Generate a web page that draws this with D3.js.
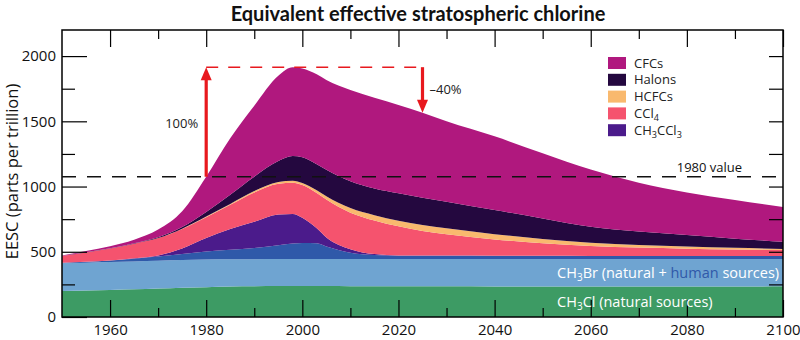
<!DOCTYPE html>
<html>
<head>
<meta charset="utf-8">
<script src="https://cdn.jsdelivr.net/npm/d3@7"></script>
<style>
  html, body { margin: 0; padding: 0; background: #fff; }
  svg { display: block; font-family: "Open Sans", sans-serif; }
</style>
</head>
<body>
<svg id="chart" width="800" height="340"></svg>
<script>
// Contributions to equivalent effective stratospheric chlorine (ppt), stacked bottom to top
const years        = [1950,1955,1960,1965,1970,1975,1980,1985,1990,1995,1998,2000,2003,2005,2010,2015,2020,2025,2030,2040,2050,2060,2070,2080,2090,2100];
const ch3cl        = [200,203,207,212,218,224,229,233,235,237,237,237,237,237,236,236,235,235,235,234,234,234,234,234,234,235];
const ch3brNatural = [212,213,214,214,213,212,211,209,208,207,207,207,207,207,208,208,209,209,209,210,210,210,210,210,210,209];
const ch3brHuman   = [4,7,12,21,32,46,63,73,85,106,119,123,121,96,48,31,26,26,26,26,25,24,24,23,23,23];
const ch3ccl3      = [0,0,1,3,9,43,102,160,202,235,227,193,115,70,28,7,2,1,1,0,0,0,0,0,0,0];
const ccl4         = [52,72,91,112,133,150,160,185,225,237,240,252,270,290,280,258,223,189,164,125,96,77,64,57,51,46];
const hcfcs        = [0,0,0,0,0,2,5,7,10,13,15,16,22,25,35,40,43,45,45,40,33,25,20,16,12,9];
const halons       = [0,1,2,4,7,13,35,70,110,160,189,197,198,203,205,205,210,210,204,185,158,122,103,88,70,55];
const cfcs         = [4,9,15,26,58,120,270,433,545,655,681,680,690,688,700,695,677,650,616,565,499,438,375,327,297,266];

const seriesKeys   = ["ch3cl","ch3brNatural","ch3brHuman","ch3ccl3","ccl4","hcfcs","halons","cfcs"];
const seriesColors = ["#3d9b64","#6fa4d1","#2f59a9","#4b1b8b","#f5536e","#f9b96e","#24083f","#b0187e"];

// Legend entries (odd-index pieces are subscripts)
const legendKeys   = ["cfcs","halons","hcfcs","ccl4","ch3ccl3"];
const legendLabels = [["CFCs"],["Halons"],["HCFCs"],["CCl","4"],["CH","3","CCl","3"]];

const xMajorTicks = [1960,1980,2000,2020,2040,2060,2080,2100];
const xMinorTicks = [1970,1990,2010,2030,2050,2070,2090];
const yMajorTicks = [0,500,1000,1500,2000];
const yMinorTicks = [250,750,1250,1750];

const title  = "Equivalent effective stratospheric chlorine";
const yTitle = "EESC (parts per trillion)";

const rows = years.map((yr, i) => ({
  year: yr, ch3cl: ch3cl[i], ch3brNatural: ch3brNatural[i], ch3brHuman: ch3brHuman[i],
  ch3ccl3: ch3ccl3[i], ccl4: ccl4[i], hcfcs: hcfcs[i], halons: halons[i], cfcs: cfcs[i]
}));
const totals = rows.map(r => seriesKeys.reduce((s, k) => s + r[k], 0));

const svg = d3.select("#chart");
const L = 62, R = 783, T = 30, B = 317;
const x = d3.scaleLinear().domain([1950, 2100]).range([L, R]);
const y = d3.scaleLinear().domain([0, 2200]).range([B, T]);
const color = d3.scaleOrdinal().domain(seriesKeys).range(seriesColors);

const stacked = d3.stack().keys(seriesKeys)(rows);
const area = d3.area()
  .x(d => x(d.data.year))
  .y0(d => y(d[0]))
  .y1(d => y(d[1]))
  .curve(d3.curveMonotoneX);

svg.append("g").selectAll("path")
  .data(stacked).join("path")
  .attr("d", area)
  .attr("fill", d => color(d.key));

// Rich text helper: alternate normal / subscript pieces
function richText(sel, parts, size) {
  const sub = size * 0.7, shift = size * 0.22;
  parts.forEach((p, i) => {
    const t = sel.append("tspan").text(p);
    if (i % 2 === 1) t.attr("font-size", sub).attr("dy", shift);
    else if (i > 0) t.attr("dy", -shift);
  });
}

// Axes: ticks point inward on all four sides
function styleAxis(g) {
  g.select(".domain").remove();
  g.selectAll(".tick line").attr("stroke", "#000").attr("stroke-width", 1.2);
  g.selectAll("text").attr("font-family", "Open Sans, sans-serif").attr("font-size", 15).attr("fill", "#111");
}
svg.append("g").attr("transform", `translate(0,${B})`)
  .call(d3.axisBottom(x).tickValues(xMajorTicks).tickSize(-17).tickPadding(7).tickFormat(d3.format("d")))
  .call(styleAxis);
svg.append("g").attr("transform", `translate(0,${B})`)
  .call(d3.axisBottom(x).tickValues(xMinorTicks).tickSize(-9).tickFormat(""))
  .call(styleAxis);
svg.append("g").attr("transform", `translate(0,${T})`)
  .call(d3.axisTop(x).tickValues(xMajorTicks).tickSize(-17).tickFormat(""))
  .call(styleAxis);
svg.append("g").attr("transform", `translate(0,${T})`)
  .call(d3.axisTop(x).tickValues(xMinorTicks).tickSize(-9).tickFormat(""))
  .call(styleAxis);
svg.append("g").attr("transform", `translate(${L},0)`)
  .call(d3.axisLeft(y).tickValues(yMajorTicks).tickSize(-25).tickPadding(6).tickFormat(d3.format("d")))
  .call(styleAxis);
svg.append("g").attr("transform", `translate(${L},0)`)
  .call(d3.axisLeft(y).tickValues(yMinorTicks).tickSize(-13).tickFormat(""))
  .call(styleAxis);
svg.append("g").attr("transform", `translate(${R},0)`)
  .call(d3.axisRight(y).tickValues(yMajorTicks.concat(yMinorTicks).filter(v => v > 0)).tickSize(-14).tickFormat(""))
  .call(styleAxis);

// Frame
svg.append("rect").attr("x", L).attr("y", T).attr("width", R - L).attr("height", B - T)
  .attr("fill", "none").attr("stroke", "#000").attr("stroke-width", 1.5);

// 1980 reference level
const i1980 = years.indexOf(1980);
const v1980 = totals[i1980];
svg.append("line")
  .attr("x1", L).attr("x2", R).attr("y1", y(v1980)).attr("y2", y(v1980))
  .attr("stroke", "#111").attr("stroke-width", 1.3).attr("stroke-dasharray", "14,11");
svg.append("text").attr("x", x(2091.5)).attr("y", y(v1980) - 5)
  .attr("text-anchor", "end").attr("font-size", 13).attr("fill", "#111").text("1980 value");

// Peak and recovery arrows
const peak = d3.max(totals);
const yrDown = 2025;
const vDown = totals[years.indexOf(yrDown)];
const red = "#e8191e";
svg.append("line")
  .attr("x1", x(1980)).attr("x2", x(yrDown)).attr("y1", y(peak)).attr("y2", y(peak))
  .attr("stroke", red).attr("stroke-width", 1.4).attr("stroke-dasharray", "12,10");

function arrow(xp, yFrom, yTo) {
  const dir = yTo < yFrom ? 1 : -1;       // 1: pointing up
  const head = 13, half = 5.5;
  svg.append("line").attr("x1", xp).attr("x2", xp)
    .attr("y1", yFrom).attr("y2", yTo + dir * (head - 1))
    .attr("stroke", red).attr("stroke-width", 3.2);
  svg.append("path")
    .attr("d", `M${xp},${yTo} L${xp - half},${yTo + dir * head} L${xp + half},${yTo + dir * head} Z`)
    .attr("fill", red);
}
arrow(x(1980), y(v1980), y(peak));
arrow(x(yrDown), y(peak), y(vDown));

svg.append("text").attr("x", x(1980) - 8).attr("y", y((v1980 + peak) / 2) + 6)
  .attr("text-anchor", "end").attr("font-size", 13).attr("fill", "#222").text("100%");
svg.append("text").attr("x", x(yrDown) + 7).attr("y", y(peak) + 27)
  .attr("font-size", 13).attr("fill", "#222").text("\u201340%");

// Legend
const lg = svg.append("g").attr("transform", "translate(608,57)");
legendKeys.forEach((k, i) => {
  const row = lg.append("g").attr("transform", `translate(0,${i * 16.8})`);
  row.append("rect").attr("width", 18).attr("height", 12).attr("fill", color(k));
  const t = row.append("text").attr("x", 26).attr("y", 10.5).attr("font-size", 13).attr("fill", "#222");
  richText(t, legendLabels[i], 13);
});

// In-band labels for the methyl halide layers
const labelYear = 2053;
function bandMid(key) {
  const s = stacked.find(d => d.key === key);
  const lo = d3.scaleLinear().domain(years).range(s.map(d => d[0]))(labelYear);
  const hi = d3.scaleLinear().domain(years).range(s.map(d => d[1]))(labelYear);
  return (lo + hi) / 2;
}
{
  const t = svg.append("text").attr("x", x(labelYear)).attr("y", y(bandMid("ch3brNatural")) + 5)
    .attr("font-size", 14.5).attr("fill", "#fff");
  t.append("tspan").text("CH");
  t.append("tspan").text("3").attr("font-size", 10).attr("dy", 3.5);
  t.append("tspan").text("Br (natural + ").attr("dy", -3.5);
  t.append("tspan").text("human").attr("fill", "#2f59a9");
  t.append("tspan").text(" sources)");

  const t2 = svg.append("text").attr("x", x(labelYear)).attr("y", y(bandMid("ch3cl")) + 5)
    .attr("font-size", 14.5).attr("fill", "#fff");
  t2.append("tspan").text("CH");
  t2.append("tspan").text("3").attr("font-size", 10).attr("dy", 3.5);
  t2.append("tspan").text("Cl (natural sources)").attr("dy", -3.5);
}

// Titles
svg.append("text").attr("x", 418).attr("y", 21).attr("text-anchor", "middle")
  .attr("font-family", "Lato, sans-serif").attr("font-weight", 700).attr("font-size", 20)
  .attr("fill", "#111").text(title);
svg.append("text").attr("transform", `translate(18,${(T + B) / 2 - 2}) rotate(-90)`)
  .attr("text-anchor", "middle").attr("font-size", 16.5).attr("fill", "#111").text(yTitle);
</script>
</body>
</html>
